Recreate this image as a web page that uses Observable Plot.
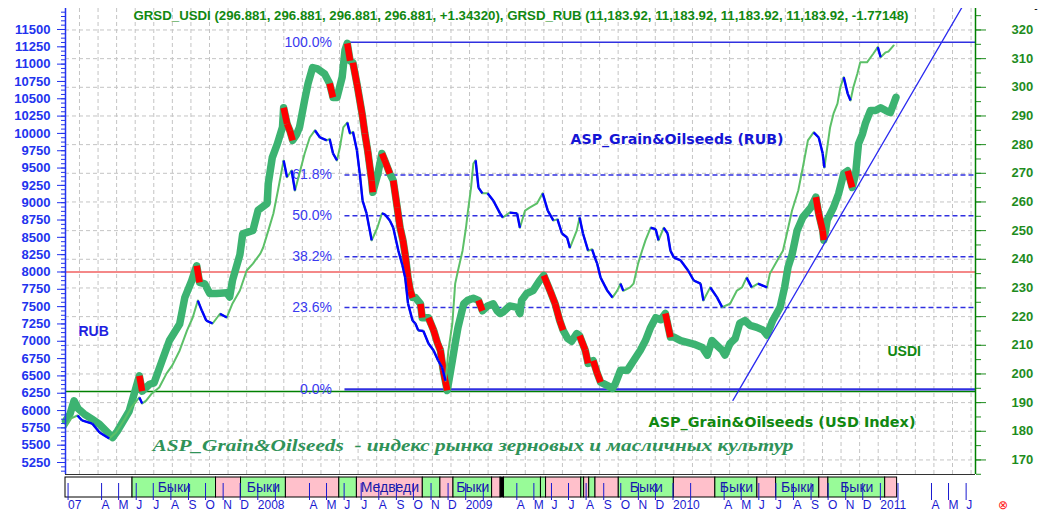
<!DOCTYPE html>
<html><head><meta charset="utf-8">
<script src="https://cdn.jsdelivr.net/npm/d3@7"></script>
<script src="https://cdn.jsdelivr.net/npm/@observablehq/plot@0.6"></script>
<style>
html,body{margin:0;padding:0;background:#fff;}
#chart svg{display:block;}
</style></head><body><div id="chart"></div>
<script>
// ---------------- DATA ----------------
const rubDates = ["2007-01-31","2007-02-08","2007-02-15","2007-02-22","2007-03-05","2007-03-18","2007-04-01","2007-04-18","2007-04-24","2007-05-02","2007-05-23","2007-06-03","2007-06-10","2007-06-15","2007-06-28","2007-07-06","2007-07-20","2007-08-02","2007-08-20","2007-08-29","2007-09-10","2007-09-19","2007-09-24","2007-10-03","2007-10-12","2007-10-24","2007-11-11","2007-11-16","2007-11-21","2007-12-04","2007-12-09","2007-12-27","2008-01-05","2008-01-21","2008-01-23","2008-01-30","2008-02-08","2008-02-17","2008-02-19","2008-02-25","2008-03-01","2008-03-06","2008-03-13","2008-03-18","2008-03-27","2008-04-02","2008-04-10","2008-04-19","2008-05-01","2008-05-10","2008-05-16","2008-05-23","2008-06-01","2008-06-06","2008-06-10","2008-06-15","2008-06-20","2008-06-27","2008-07-06","2008-07-11","2008-07-16","2008-07-23","2008-07-25","2008-08-03","2008-08-10","2008-08-15","2008-08-24","2008-08-30","2008-09-06","2008-09-11","2008-09-16","2008-09-20","2008-09-25","2008-09-29","2008-10-03","2008-10-08","2008-10-17","2008-10-20","2008-10-31","2008-11-09","2008-11-16","2008-11-21","2008-11-26","2008-12-03","2008-12-12","2008-12-17","2008-12-22","2009-01-01","2009-01-08","2009-01-18","2009-01-27","2009-02-03","2009-02-12","2009-02-22","2009-03-01","2009-03-06","2009-03-11","2009-03-23","2009-04-05","2009-04-10","2009-04-13","2009-04-22","2009-05-03","2009-05-15","2009-05-22","2009-06-02","2009-06-11","2009-06-19","2009-06-25","2009-07-03","2009-07-10","2009-07-19","2009-07-24","2009-08-03","2009-08-08","2009-08-17","2009-08-24","2009-08-30","2009-09-11","2009-09-20","2009-09-25","2009-10-04","2009-10-16","2009-10-27","2009-11-08","2009-11-17","2009-11-26","2009-12-05","2009-12-14","2009-12-22","2009-12-31","2010-01-06","2010-01-18","2010-02-10","2010-02-25","2010-03-06","2010-03-14","2010-03-23","2010-04-01","2010-04-06","2010-04-15","2010-04-24","2010-05-02","2010-05-11","2010-05-20","2010-06-01","2010-06-12","2010-06-19","2010-06-29","2010-07-12","2010-07-20","2010-07-26","2010-08-02","2010-08-11","2010-08-21","2010-09-04","2010-09-13","2010-09-18","2010-09-25","2010-09-27","2010-10-03","2010-10-14","2010-10-23","2010-11-01","2010-11-08","2010-11-16","2010-11-22","2010-11-27","2010-12-04","2010-12-09","2010-12-18","2010-12-27","2011-01-05","2011-01-14","2011-01-22","2011-01-28","2011-02-01"];
const rubValues = [5850,5950,6140,6030,5950,5880,5800,5660,5610,5700,5990,6300,6500,6280,6380,6400,6720,7010,7250,7630,7870,8090,7850,7830,7690,7690,7700,7640,7880,8250,8550,8600,8890,8990,9280,9650,9850,10090,10370,10140,10040,9900,9990,10090,10480,10720,10950,10930,10860,10720,10520,10520,10810,11200,11300,11050,11020,10720,10290,10000,9750,9320,9150,9420,9710,9610,9420,9320,8930,8640,8460,8250,7920,7730,7630,7630,7540,7340,7340,7160,6970,6870,6580,6290,6720,6970,7200,7540,7590,7620,7590,7440,7510,7540,7440,7400,7420,7510,7490,7400,7590,7690,7730,7880,7950,7730,7540,7300,7160,7040,7000,7110,7080,6870,6680,6720,6540,6410,6360,6320,6390,6580,6580,6720,6870,7010,7200,7340,7310,7400,7060,7060,7010,6960,6910,6800,7010,6940,6870,6800,6970,7040,7260,7300,7230,7200,7160,7090,7300,7490,7780,8070,8250,8600,8790,8930,9080,8840,8600,8460,8750,8930,9130,9420,9460,9220,9420,9850,9990,10140,10330,10330,10370,10330,10300,10430,10520];

const usdiDates = ["2007-01-31","2007-02-10","2007-02-21","2007-03-01","2007-03-19","2007-04-01","2007-04-18","2007-04-30","2007-05-17","2007-05-27","2007-06-10","2007-06-15","2007-06-22","2007-07-02","2007-07-15","2007-07-28","2007-08-07","2007-08-20","2007-09-02","2007-09-12","2007-09-21","2007-09-28","2007-10-06","2007-10-17","2007-10-30","2007-11-11","2007-11-21","2007-12-04","2007-12-16","2007-12-27","2008-01-09","2008-01-14","2008-01-23","2008-02-01","2008-02-09","2008-02-19","2008-02-25","2008-03-04","2008-03-10","2008-03-18","2008-03-27","2008-04-05","2008-04-14","2008-04-23","2008-05-05","2008-05-10","2008-05-16","2008-05-23","2008-05-28","2008-06-03","2008-06-10","2008-06-15","2008-06-20","2008-06-27","2008-07-02","2008-07-07","2008-07-14","2008-07-23","2008-08-02","2008-08-10","2008-08-15","2008-08-24","2008-08-30","2008-09-08","2008-09-15","2008-09-20","2008-09-25","2008-10-03","2008-10-08","2008-10-13","2008-10-22","2008-10-31","2008-11-09","2008-11-17","2008-11-24","2008-11-30","2008-12-05","2008-12-12","2008-12-17","2008-12-22","2008-12-30","2009-01-05","2009-01-08","2009-01-14","2009-01-18","2009-01-22","2009-01-27","2009-02-03","2009-02-12","2009-02-22","2009-03-06","2009-03-11","2009-03-23","2009-04-05","2009-04-10","2009-04-19","2009-04-27","2009-05-10","2009-05-20","2009-05-29","2009-06-08","2009-06-15","2009-06-23","2009-07-02","2009-07-07","2009-07-19","2009-07-24","2009-07-30","2009-08-08","2009-08-15","2009-08-21","2009-08-24","2009-08-30","2009-09-11","2009-09-20","2009-09-28","2009-10-04","2009-10-09","2009-10-21","2009-10-27","2009-11-04","2009-11-11","2009-11-17","2009-11-26","2009-12-05","2009-12-10","2009-12-19","2009-12-26","2009-12-31","2010-01-06","2010-01-18","2010-01-31","2010-02-10","2010-02-22","2010-02-27","2010-03-11","2010-03-23","2010-04-01","2010-04-15","2010-04-27","2010-05-06","2010-05-14","2010-05-23","2010-06-03","2010-06-19","2010-06-24","2010-07-07","2010-07-17","2010-07-24","2010-08-02","2010-08-13","2010-08-21","2010-08-30","2010-09-09","2010-09-18","2010-09-25","2010-09-28","2010-10-03","2010-10-08","2010-10-14","2010-10-21","2010-10-26","2010-11-01","2010-11-08","2010-11-13","2010-11-18","2010-11-25","2010-11-30","2010-12-12","2010-12-23","2010-12-31","2011-01-05","2011-01-14","2011-01-19","2011-01-28"];
const usdiValues = [181.3,184.5,185.5,183.8,182.7,179.6,177.5,179.6,184.8,188.3,191.8,189.7,190.7,193.2,195.3,200.2,203.0,208.2,215.2,219.7,225.6,222.1,218.6,217.6,221.0,219.7,224.6,229.1,236.1,238.5,242.0,244.1,250.0,256.0,264.0,274.5,268.6,271.0,264.0,270.0,276.9,282.5,285.0,282.5,281.5,282.0,276.9,274.5,279.0,286.0,287.7,283.8,284.5,278.0,270.0,260.5,256.0,246.6,251.0,256.0,255.7,253.5,251.0,243.0,238.0,233.6,224.6,218.6,217.6,215.2,215.0,210.6,208.2,204.7,202.3,197.6,208.0,217.6,231.5,236.1,243.0,251.0,256.0,265.1,273.4,274.5,265.0,263.0,263.0,260.5,256.0,254.6,256.3,256.0,251.0,257.0,258.0,259.5,263.0,257.0,253.5,254.0,249.0,247.6,244.0,250.0,254.6,249.0,243.0,243.5,240.0,238.5,233.6,229.0,226.7,229.0,231.5,229.0,230.2,231.5,238.5,243.0,246.6,251.0,250.5,246.6,251.0,249.0,243.0,240.6,239.6,236.1,232.6,231.5,225.6,230.2,226.7,223.3,224.5,229.1,230.2,233.6,230.2,231.5,230.2,235.0,239.6,243.0,249.0,257.0,264.0,272.0,281.5,284.3,282.5,276.9,272.0,279.0,286.0,290.8,294.3,300.0,303.5,297.8,295.4,300.0,304.7,308.7,308.7,311.7,314.0,310.5,312.2,312.5,314.6];

// axis alignment between the RUB (left) and USDI (right) scales
const alignUsdi = [170, 320];
const alignRub = [5287, 11493];

const xDomain = [new Date("2007-01-31"), new Date("2011-06-21")];
const yDomain = [5077, 11803];

const leftTicks = d3.range(5250, 11501, 250);
const leftMinorTicks = d3.range(5125, 11801, 62.5);
const rightTicks = d3.range(170, 321, 10);
const rightMinorTicks = d3.range(165, 326, 5);

// Fibonacci retracement
const fibLow = 6305, fibHigh = 11315;
const fibStart = new Date("2008-06-06");
const fibSolid = [0, 1];
const fibDashed = [0.236, 0.382, 0.5, 0.618];
const redLevel = 8000;
const greenLevel = 6275;

// trend line
const trendDates = ["2010-04-20", "2011-05-28"];
const trendValues = [6146, 11817];

// bull/bear band
const bandStarts = ["2007-01-31","2007-05-29","2007-10-23","2007-12-06","2008-02-23","2008-05-27","2008-06-27","2008-10-21","2008-11-21","2008-12-14","2009-02-20","2009-03-07","2009-03-13","2009-05-17","2009-05-26","2009-07-27","2009-08-01","2009-08-10","2009-08-21","2009-10-01","2010-01-06","2010-03-20","2010-06-02","2010-07-05","2010-09-19","2010-10-05","2011-01-13"];
const bandEnd = "2011-02-03";
const bandStates = ["none","bull","bear","bull","bear","bull","bear","bull","bear","bull","bear","black","bull","bull","bear","bull","bear","bull","bear","bull","bear","bull","bear","bull","bear","bull","bear"];
const bandLabels = ["","Быки","","Быки","","","Медведи","","","Быки","","","","","","","","","","Быки","","Быки","","Быки","","Быки",""];

const headerText = "GRSD_USDI (296.881, 296.881, 296.881, 296.881, +1.34320), GRSD_RUB (11,183.92, 11,183.92, 11,183.92, 11,183.92, -1.77148)";
const subtitleText = "ASP_Grain&Oilseeds  - индекс рынка зерновых и масличных культур";
const monthLetters = ["J","F","M","A","M","J","J","A","S","O","N","D"];

// ---------------- BUILD ----------------
const toRub = d3.scaleLinear().domain(alignUsdi).range(alignRub);
const rub = rubDates.map((d, i) => ({date: new Date(d), value: rubValues[i]}));
const usdi = usdiDates.map((d, i) => ({date: new Date(d), value: usdiValues[i], y: toRub(usdiValues[i])}));
const dayMs = 864e5;
const segs = (arr, key) => arr.slice(1).map((d, i) => ({
  x1: arr[i].date, x2: d.date, y1: arr[i][key], y2: d[key],
  rate: (arr[i][key] - d[key]) / ((d.date - arr[i].date) / dayMs)
}));
// RUB bars turn red on a sharp fall; USDI turns blue on any fall
const rubDown = segs(rub, "value").filter(s => s.rate > 19);
const usdiDown = segs(usdi, "y").filter(s => s.rate > 0);
const trend = trendDates.map((d, i) => ({date: new Date(d), value: trendValues[i]}));

const gridX = d3.range(0, 49).map(k => new Date(+xDomain[0] + (24.6 + 32.7 * k) * dayMs));

const BLUE = "#2233ee", GREEN_AX = "#1e8c1e", FIB = "#3030e0";

const main = Plot.plot({
  width: 1048, height: 476,
  marginLeft: 65, marginRight: 73, marginTop: 8, marginBottom: 2,
  x: {type: "utc", domain: xDomain, axis: null},
  y: {domain: yDomain},
  style: {fontFamily: "'Liberation Sans', Arial, sans-serif", background: "#fff", overflow: "visible"},
  marks: [
    Plot.ruleY(rightTicks.map(toRub), {stroke: "#c4c4c4", strokeDasharray: "4,3"}),
    Plot.ruleX(gridX, {stroke: "#c4c4c4", strokeDasharray: "4,3"}),
    Plot.ruleY([redLevel], {stroke: "#f06060", strokeWidth: 1.5}),
    Plot.ruleY([greenLevel], {stroke: "#008000", strokeWidth: 1.5}),
    Plot.ruleY(fibDashed, {y: f => fibLow + f * (fibHigh - fibLow), x1: fibStart, x2: xDomain[1], stroke: FIB, strokeWidth: 1.5, strokeDasharray: "5,3"}),
    Plot.ruleY(fibSolid, {y: f => fibLow + f * (fibHigh - fibLow), x1: fibStart, x2: xDomain[1], stroke: FIB, strokeWidth: f => f === 0 ? 2.2 : 1.6}),
    Plot.text(fibSolid.concat(fibDashed), {x: fibStart, y: f => fibLow + f * (fibHigh - fibLow), text: f => (f * 100).toFixed(1) + "%", textAnchor: "end", dx: -13, fill: "#3a3af0", fontSize: 14}),
    // RUB thick
    Plot.line(rub, {x: "date", y: "value", stroke: "#3cb371", strokeWidth: 7.5, strokeLinejoin: "round", strokeLinecap: "round"}),
    Plot.link(rubDown, {x1: "x1", y1: "y1", x2: "x2", y2: "y2", stroke: "#ff0000", strokeWidth: 6.5, strokeLinecap: "butt"}),
    // USDI thin
    Plot.line(usdi, {x: "date", y: "y", stroke: "#5cc068", strokeWidth: 2}),
    Plot.link(usdiDown, {x1: "x1", y1: "y1", x2: "x2", y2: "y2", stroke: "#0000ff", strokeWidth: 2.4}),
    // trend line
    Plot.line(trend, {x: "date", y: "value", stroke: "#2b2bf0", strokeWidth: 1.3, clip: true}),
    // texts
    Plot.text([headerText], {frameAnchor: "top-left", dx: 68, dy: 2, fill: "#118811", fontSize: 13, fontWeight: "bold"}),
    Plot.text(["ASP_Grain&Oilseeds (RUB)"], {frameAnchor: "top-left", lineAnchor: "middle", dx: 505, dy: 131, fill: "#1515d5", fontSize: 13.5, fontWeight: "bold", fontFamily: "'DejaVu Sans', Verdana, sans-serif"}),
    Plot.text(["ASP_Grain&Oilseeds (USD Index)"], {frameAnchor: "top-left", lineAnchor: "middle", dx: 583, dy: 414, fill: "#118811", fontSize: 13.5, fontWeight: "bold", fontFamily: "'DejaVu Sans', Verdana, sans-serif"}),
    Plot.text(["RUB"], {frameAnchor: "top-left", lineAnchor: "middle", dx: 13, dy: 323.5, fill: "#1f1fe0", fontSize: 14, fontWeight: "bold"}),
    Plot.text(["USDI"], {frameAnchor: "top-left", lineAnchor: "middle", dx: 822, dy: 343, fill: "#118811", fontSize: 14, fontWeight: "bold"}),
    Plot.text([subtitleText], {frameAnchor: "top-left", lineAnchor: "middle", dx: 87, dy: 437, fill: "#2f9258", fontSize: 17, fontStyle: "italic", fontWeight: "bold", fontFamily: "'Liberation Serif', 'Times New Roman', serif"}),
    Plot.text(["-"], {frameAnchor: "top-right", dx: 62, dy: -4, fill: "#000", fontSize: 10}),
    // axes
    Plot.axisY(leftMinorTicks, {anchor: "left", tickSize: 4, tickFormat: () => "", stroke: BLUE, label: null}),
    Plot.axisY(leftTicks, {anchor: "left", tickSize: 8, tickPadding: 7, color: BLUE, fontWeight: "bold", fontSize: 13, tickFormat: d => String(d), label: null}),
    Plot.axisY(rightMinorTicks.map(toRub), {anchor: "right", tickSize: 5, tickFormat: () => "", stroke: GREEN_AX, label: null}),
    Plot.axisY(rightTicks.map(toRub), {anchor: "right", tickSize: 10, tickPadding: 26, color: GREEN_AX, fontWeight: "bold", fontSize: 13, textAnchor: "start", tickFormat: d => String(Math.round(toRub.invert(d))), label: null}),
    Plot.ruleX([xDomain[0]], {stroke: BLUE, strokeWidth: 1.5}),
    Plot.ruleX([xDomain[1]], {stroke: "#008000", strokeWidth: 1.5}),
    Plot.ruleY([yDomain[0]], {stroke: "#333", strokeWidth: 1})
  ]
});

// band
const cells = bandStarts.map((s, i) => ({
  start: new Date(s), end: new Date(i + 1 < bandStarts.length ? bandStarts[i + 1] : bandEnd),
  state: bandStates[i], label: bandLabels[i]
}));
const fillFor = {none: "#ffffff", bull: "#98fb98", bear: "#ffc0cb", black: "#000000"};
const monthTicks = d3.utcMonth.range(new Date("2007-02-01"), new Date("2011-06-02")).filter(d => d.getUTCMonth() !== 2);
const monthLabel = d => {
  const m = d.getUTCMonth(), y = d.getUTCFullYear();
  if (m === 0) return String(y);
  if (m === 1) return y === 2007 ? "07" : "";
  return monthLetters[m];
};

const band = Plot.plot({
  width: 1048, height: 39,
  marginLeft: 65, marginRight: 73, marginTop: 1, marginBottom: 18,
  x: {type: "utc", domain: xDomain},
  style: {fontFamily: "'Liberation Sans', Arial, sans-serif", background: "#fff", overflow: "visible"},
  marks: [
    Plot.rect(cells, {x1: "start", x2: "end", fill: d => fillFor[d.state], stroke: "#000", strokeWidth: 1}),
    Plot.text(cells.filter(d => d.label), {x: d => new Date((+d.start + +d.end) / 2), text: "label", fill: "#1a1aa8", fontSize: 14}),
    Plot.axisX(monthTicks, {tickSize: 17, tickPadding: 0, dy: -14, dx: 2, textAnchor: "start", tickFormat: monthLabel, color: "#1a1ad0", fontSize: 12, label: null}),
    Plot.text(["⊗"], {frameAnchor: "bottom-right", lineAnchor: "middle", dx: 32, dy: 8, fill: "#ff2020", fontSize: 12})
  ]
});

const root = document.getElementById("chart");
root.appendChild(main);
root.appendChild(band);

// fit long annotation texts to the reference widths
const fit = {
  [headerText]: 775,
  [subtitleText]: 641,
  "ASP_Grain&Oilseeds (RUB)": 213,
  "ASP_Grain&Oilseeds (USD Index)": 267
};
main.querySelectorAll("text").forEach(t => {
  const w = fit[t.textContent];
  if (w) {
    t.setAttribute("textLength", w);
    t.setAttribute("lengthAdjust", "spacingAndGlyphs");
    t.style.whiteSpace = "pre";
  }
});
</script>
</body></html>
